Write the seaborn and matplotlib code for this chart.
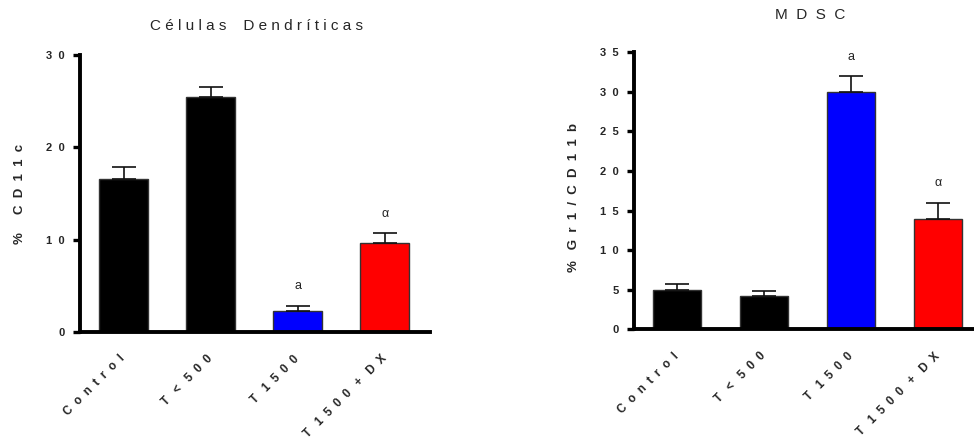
import matplotlib
matplotlib.use("Agg")
import matplotlib.pyplot as plt
import seaborn as sns
import pandas as pd

# Groups and measurements (mean and SEM)
groups = ["Control", "T < 500", "T 1500", "T 1500 + DX"]
bar_colors = ["#000000", "#000000", "#0000ff", "#ff0000"]

cd11c_mean = [16.6, 25.5, 2.25, 9.6]
cd11c_sem = [1.3, 1.0, 0.6, 1.1]

mdsc_mean = [5.0, 4.2, 30.0, 14.0]
mdsc_sem = [0.7, 0.7, 2.0, 2.0]

# Significance marks placed above bars
cd11c_marks = ["", "", "a", "α"]
mdsc_marks = ["", "", "a", "α"]

cd11c_ticks = [0, 10, 20, 30]
mdsc_ticks = [0, 5, 10, 15, 20, 25, 30, 35]

sns.set_theme(style="white")
plt.rcParams["font.family"] = ["Liberation Sans", "DejaVu Sans"]


def letter_space(text, gap=" ", word_gap="   "):
    """Letter-spaced string, GraphPad style."""
    words = text.split(" ")
    return word_gap.join(gap.join(list(w)) for w in words if w)


fig = plt.figure(figsize=(9.74, 4.46), dpi=100)
W, H = 974, 446
ax1 = fig.add_axes([80 / W, 1 - 332 / H, 350 / W, 277 / H])
ax2 = fig.add_axes([634 / W, 1 - 329.3 / H, 340 / W, 277 / H])


def draw_panel(ax, means, sems, marks, ticks, ylim, xlim, ylabel, label_xy):
    df = pd.DataFrame({"grupo": groups, "valor": means})
    sns.barplot(data=df, x="grupo", y="valor", hue="grupo", palette=bar_colors,
                order=groups, hue_order=groups, width=0.56, dodge=False,
                saturation=1, edgecolor="#333333", linewidth=1.0,
                legend=False, ax=ax)
    xs = list(range(len(groups)))
    ax.errorbar(xs, means, yerr=[[0] * len(sems), sems], fmt="none",
                ecolor="#111111", elinewidth=1.2, capsize=8.5, capthick=1.2,
                zorder=1)
    for x, m, s, t in zip(xs, means, sems, marks):
        if t:
            ax.annotate(t, (x, m + s), xytext=(0, 14), textcoords="offset points",
                        ha="center", va="center", fontsize=9, color="#222222")
    ax.set_xlim(*xlim)
    ax.set_ylim(*ylim)
    ax.set_yticks(ticks)
    ax.set_yticklabels([letter_space(str(t), "  ") for t in ticks], fontsize=8,
                       fontweight="bold")
    ax.set_xticks(xs)
    ax.set_xticklabels([letter_space(g, "  ", "   ") for g in groups],
                       rotation=45, ha="right", va="center",
                       rotation_mode="anchor", fontsize=8.5, fontweight="bold")
    ax.tick_params(axis="x", length=0, pad=18)
    ax.tick_params(axis="y", length=5, width=2.4, pad=6, color="black",
                   left=True)
    for side in ("top", "right"):
        ax.spines[side].set_visible(False)
    for side in ("left", "bottom"):
        ax.spines[side].set_linewidth(2.8)
        ax.spines[side].set_color("black")
    ax.set_xlabel("")
    ax.set_ylabel(ylabel, fontsize=9.5, fontweight="bold")
    ax.yaxis.set_label_coords(*label_xy)


draw_panel(ax1, cd11c_mean, cd11c_sem, cd11c_marks, cd11c_ticks, (0, 30),
           (-0.5, 3.52), "%     C  D  1  1  c", (-0.155, 0.5))
draw_panel(ax2, mdsc_mean, mdsc_sem, mdsc_marks, mdsc_ticks, (0, 35),
           (-0.494, 3.414), "%   G  r  1  /  C  D  1  1  b", (-0.16, 0.476))

fig.text(257 / W, 1 - 26 / H, letter_space("Células Dendríticas", " ", "    "),
         ha="center", va="center", fontsize=11)
fig.text(810 / W, 1 - 15 / H, letter_space("MDSC", "  "),
         ha="center", va="center", fontsize=11)

fig.savefig("out.png", dpi=100)
